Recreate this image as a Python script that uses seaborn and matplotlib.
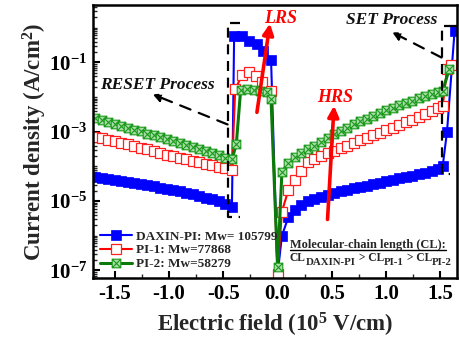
import numpy as np
import pandas as pd
import matplotlib
matplotlib.use("Agg")
import matplotlib.pyplot as plt
import seaborn as sns
from matplotlib.path import Path
from matplotlib.lines import Line2D
from matplotlib.ticker import FixedLocator, MultipleLocator, NullFormatter

# ---------------- data ----------------
neg_x = [-1.68, -1.62, -1.56, -1.50, -1.44, -1.38, -1.32, -1.26, -1.20, -1.14, -1.08,
         -1.02, -0.96, -0.90, -0.84, -0.78, -0.72, -0.66, -0.60, -0.54, -0.48, -0.42]
pos_x = [0.04, 0.10, 0.16, 0.22, 0.28, 0.34, 0.40, 0.46, 0.52, 0.58, 0.64, 0.70, 0.76,
         0.82, 0.88, 0.94, 1.00, 1.06, 1.12, 1.18, 1.24, 1.30, 1.36, 1.42, 1.48, 1.52]

# DAXIN-PI
daxin_neg = [5.0e-5, 4.7e-5, 4.4e-5, 4.1e-5, 3.8e-5, 3.5e-5, 3.3e-5, 3.1e-5, 2.9e-5, 2.7e-5, 2.45e-5,
             2.3e-5, 2.1e-5, 1.9e-5, 1.75e-5, 1.6e-5, 1.4e-5, 1.26e-5, 1.12e-5, 9.8e-6, 8.3e-6, 6.9e-6]
daxin_lrs_x = [-0.40, -0.33, -0.26, -0.19, -0.13, -0.06, 0.0]
daxin_lrs = [0.56, 0.56, 0.41, 0.33, 0.21, 0.12, 7.5e-8]
daxin_pos = [1.0e-6, 3.5e-6, 5.6e-6, 7.6e-6, 1.0e-5, 1.17e-5, 1.35e-5, 1.5e-5, 1.7e-5, 1.9e-5, 2.1e-5,
             2.35e-5, 2.6e-5, 2.8e-5, 3.1e-5, 3.4e-5, 3.7e-5, 4.1e-5, 4.5e-5, 4.9e-5, 5.4e-5, 5.9e-5,
             6.5e-5, 7.2e-5, 8.3e-5, 1.0e-4]
daxin_set_x = [1.56, 1.63]
daxin_set = [1.0e-3, 0.83]

# PI-1
pi1_neg = [7.1e-4, 6.5e-4, 5.9e-4, 5.4e-4, 4.8e-4, 4.4e-4, 4.0e-4, 3.5e-4, 3.2e-4, 2.8e-4, 2.5e-4,
           2.2e-4, 2.0e-4, 1.8e-4, 1.6e-4, 1.4e-4, 1.3e-4, 1.17e-4, 1.07e-4, 9.8e-5, 8.9e-5, 8.1e-5]
pi1_lrs_x = [-0.39, -0.33, -0.26, -0.20, -0.14, -0.06, 0.0]
pi1_lrs = [1.66e-2, 4.2e-2, 5.4e-2, 4.0e-2, 2.75e-2, 1.5e-2, 8.0e-8]
pi1_pos = [5.0e-6, 2.1e-5, 4.0e-5, 7.6e-5, 1.32e-4, 1.66e-4, 2.0e-4, 2.4e-4, 2.8e-4, 3.4e-4, 4.0e-4,
           4.8e-4, 5.6e-4, 6.6e-4, 7.9e-4, 9.3e-4, 1.1e-3, 1.3e-3, 1.55e-3, 1.86e-3, 2.2e-3, 2.7e-3,
           3.3e-3, 4.0e-3, 4.8e-3, 5.4e-3]
pi1_set_x = [1.56, 1.60]
pi1_set = [6.3e-2, 8.7e-2]

# PI-2
pi2_neg = [2.5e-3, 2.2e-3, 1.9e-3, 1.7e-3, 1.48e-3, 1.32e-3, 1.15e-3, 1.02e-3, 8.9e-4, 7.9e-4, 6.9e-4,
           6.2e-4, 5.4e-4, 4.8e-4, 4.2e-4, 3.6e-4, 3.2e-4, 2.75e-4, 2.4e-4, 2.1e-4, 1.8e-4, 1.6e-4]
pi2_lrs_x = [-0.38, -0.34, -0.28, -0.22, -0.16, -0.10, -0.06, 0.0]
pi2_lrs = [4.3e-4, 1.6e-2, 1.66e-2, 1.6e-2, 1.5e-2, 1.4e-2, 8.9e-3, 1.25e-7]
pi2_pos = [6.8e-5, 1.26e-4, 1.9e-4, 2.5e-4, 3.2e-4, 4.0e-4, 5.2e-4, 6.8e-4, 8.5e-4, 1.07e-3, 1.32e-3,
           1.62e-3, 2.0e-3, 2.4e-3, 2.9e-3, 3.5e-3, 4.2e-3, 4.9e-3, 5.8e-3, 6.8e-3, 7.9e-3, 9.3e-3,
           1.07e-2, 1.23e-2, 1.38e-2, 1.5e-2]
pi2_set_x = [1.58]
pi2_set = [6.3e-2]

labels = ["DAXIN-PI: Mw= 105799", "PI-1: Mw=77868", "PI-2: Mw=58279"]
x_ticks = [-1.5, -1.0, -0.5, 0.0, 0.5, 1.0, 1.5]
x_ticklabels = ["-1.5", "-1.0", "-0.5", "0.0", "0.5", "1.0", "1.5"]
y_ticks = [1e-7, 1e-5, 1e-3, 1e-1]
y_ticklabels = ["10$^{-7}$", "10$^{-5}$", "10$^{-3}$", "10$^{-1}$"]

# annotation geometry (data coords)
reset_box_x = [-0.35, -0.46, -0.46, -0.35]
reset_box_y = [10**0.15, 10**0.15, 10**-5.47, 10**-5.47]
set_box_x = [1.62, 1.51, 1.51, 1.59]
set_box_y = [10**0.04, 10**0.04, 10**-4.23, 10**-4.23]

# ---------------- style ----------------
sns.set_theme(style="white")
plt.rcParams.update({
    "font.family": ["Liberation Serif", "DejaVu Serif"],
    "font.weight": "bold",
    "mathtext.fontset": "custom",
    "mathtext.rm": "Liberation Serif:bold",
    "mathtext.bf": "Liberation Serif:bold",
    "mathtext.it": "Liberation Serif:bold:italic",
    "mathtext.default": "rm",
    "axes.unicode_minus": False,
})

frames = []
for name, neg, lx, l, pos, sx, s in [
    (labels[0], daxin_neg, daxin_lrs_x, daxin_lrs, daxin_pos, daxin_set_x, daxin_set),
    (labels[1], pi1_neg, pi1_lrs_x, pi1_lrs, pi1_pos, pi1_set_x, pi1_set),
    (labels[2], pi2_neg, pi2_lrs_x, pi2_lrs, pi2_pos, pi2_set_x, pi2_set),
]:
    xs = list(neg_x) + list(lx) + list(pos_x) + list(sx)
    ys = list(neg) + list(l) + list(pos) + list(s)
    frames.append(pd.DataFrame({"E": xs, "J": ys, "sample": name, "order": range(len(xs))}))
df = pd.concat(frames, ignore_index=True)

box_x = Path([(-1, -1), (1, -1), (1, 1), (-1, 1), (-1, -1), (-1, -1), (1, 1), (-1, 1), (1, -1)],
             [Path.MOVETO, Path.LINETO, Path.LINETO, Path.LINETO, Path.CLOSEPOLY,
              Path.MOVETO, Path.LINETO, Path.MOVETO, Path.LINETO])

styles = {
    labels[0]: dict(color="#0000ff", marker="s", markersize=7.5, markerfacecolor="#0000ff",
                    markeredgecolor="#0000ff", markeredgewidth=0.5, linewidth=1.5),
    labels[1]: dict(color="#ff0000", marker="s", markersize=7.3, markerfacecolor="white",
                    markeredgecolor="#ff2020", markeredgewidth=0.9, linewidth=1.5),
    labels[2]: dict(color="#0a7a0a", marker=box_x, markersize=6.2, markerfacecolor="#a8dca8",
                    markeredgecolor="#1a9a1a", markeredgewidth=0.8, linewidth=2.2),
}

fig = plt.figure(figsize=(4.6, 3.4), dpi=100)
ax = fig.add_axes([0.202, 0.182, 0.791, 0.803])

for name in labels:
    sub = df[df["sample"] == name].sort_values("order")
    sns.lineplot(data=sub, x="E", y="J", sort=False, estimator=None, ax=ax,
                 label=name, **styles[name])

ax.set_yscale("log")
ax.set_xlim(-1.70, 1.65)
ax.set_ylim(6e-8, 4.5)

ax.set_xticks(x_ticks, x_ticklabels)
ax.xaxis.set_minor_locator(MultipleLocator(0.25))
ax.yaxis.set_major_locator(FixedLocator(y_ticks))
ax.set_yticklabels(y_ticklabels)
ax.yaxis.set_minor_locator(FixedLocator([10.0**k for k in range(-8, 1)] +
                                        [m * 10.0**k for k in range(-8, 1) for m in range(2, 10)]))
ax.yaxis.set_minor_formatter(NullFormatter())
ax.tick_params(axis="both", which="major", direction="in", length=5, width=1.5,
               labelsize=15, pad=4, colors="black", bottom=True, left=True)
ax.tick_params(axis="both", which="minor", direction="in", length=3, width=1.0,
               bottom=True, left=True)
for lab in ax.get_xticklabels() + ax.get_yticklabels():
    lab.set_fontweight("bold")
for sp in ax.spines.values():
    sp.set_linewidth(1.8)
    sp.set_color("black")

ax.set_xlabel("Electric field (10$^5$ V/cm)", fontsize=16.5, fontweight="bold", labelpad=5)
ax.set_ylabel("Current density (A/cm$^2$)", fontsize=16.5, fontweight="bold", labelpad=0)

# dashed boxes and arrows
dash = (0, (4.5, 3))
ax.plot(reset_box_x, reset_box_y, color="black", lw=1.6, linestyle=dash)
ax.plot(set_box_x, set_box_y, color="black", lw=1.6, linestyle=dash)
ax.plot([1.62, 1.65], [10**0.04, 10**0.04], color="black", lw=1.6, linestyle=dash, clip_on=True)
ax.annotate("", xy=(-1.15, 10**-1.92), xytext=(-0.46, 10**-2.79),
            arrowprops=dict(arrowstyle="-|>", color="black", lw=1.6, linestyle=(0, (5, 4)),
                            mutation_scale=12, shrinkA=0, shrinkB=0))
ax.annotate("", xy=(1.055, 10**-0.13), xytext=(1.51, 10**-0.86),
            arrowprops=dict(arrowstyle="-|>", color="black", lw=1.6, linestyle=(0, (5, 4)),
                            mutation_scale=12, shrinkA=0, shrinkB=0))
ax.text(-1.11, 10**-1.66, "RESET Process", fontsize=12.5, fontweight="bold", style="italic",
        ha="center", va="center", color="#111111")
ax.text(1.05, 10**0.22, "SET Process", fontsize=12.5, fontweight="bold", style="italic",
        ha="center", va="center", color="#111111")

# red arrows
ax.annotate("", xy=(-0.07, 10**0.12), xytext=(-0.19, 10**-2.44),
            arrowprops=dict(arrowstyle="-|>", color="#ff0000", lw=2.6, mutation_scale=16,
                            shrinkA=0, shrinkB=0))
ax.annotate("", xy=(0.52, 10**-2.25), xytext=(0.46, 10**-5.53),
            arrowprops=dict(arrowstyle="-|>", color="#ff0000", lw=2.6, mutation_scale=16,
                            shrinkA=0, shrinkB=0))
ax.text(0.03, 10**0.27, "LRS", fontsize=13, fontweight="bold", style="italic",
        color="#ff0000", ha="center", va="center")
ax.text(0.53, 10**-2.02, "HRS", fontsize=13, fontweight="bold", style="italic",
        color="#ff0000", ha="center", va="center")

# legend
leg = ax.legend(loc="lower left", bbox_to_anchor=(-0.005, -0.005), frameon=False, fontsize=9.5,
                handlelength=2.4, handletextpad=0.3, labelspacing=0.12, borderpad=0.2,
                numpoints=1)
for t in leg.get_texts():
    t.set_fontweight("bold")

# molecular-chain annotation
t_title = ax.text(0.541, 0.12, "Molecular-chain length (CL):", transform=ax.transAxes,
                  fontsize=8.9, fontweight="bold", ha="left", va="center")
t0 = ax.text(0.541, 0.075, "CL", transform=ax.transAxes, fontsize=8.3, fontweight="bold",
             ha="left", va="center")
parts = [("DAXIN-PI", True), (" > CL", False), ("PI-1", True), (" > CL", False), ("PI-2", True)]
prev = t0
state_sub = False
for txt, is_sub in parts:
    dy = -2.5 if (is_sub and not state_sub) else (2.5 if (not is_sub and state_sub) else 0)
    prev = ax.annotate(txt, xy=(1, 0), xycoords=prev, xytext=(0, dy), textcoords="offset points",
                       fontsize=7.8 if is_sub else 8.3, fontweight="bold", ha="left", va="bottom")
    state_sub = is_sub

fig.canvas.draw()
bb = t_title.get_window_extent()
fig.add_artist(Line2D([bb.x0 / fig.bbox.width, bb.x1 / fig.bbox.width],
                      [(bb.y0 + 1) / fig.bbox.height, (bb.y0 + 1) / fig.bbox.height],
                      color="black", lw=1.0, transform=fig.transFigure))

fig.savefig("out.png", dpi=100)
